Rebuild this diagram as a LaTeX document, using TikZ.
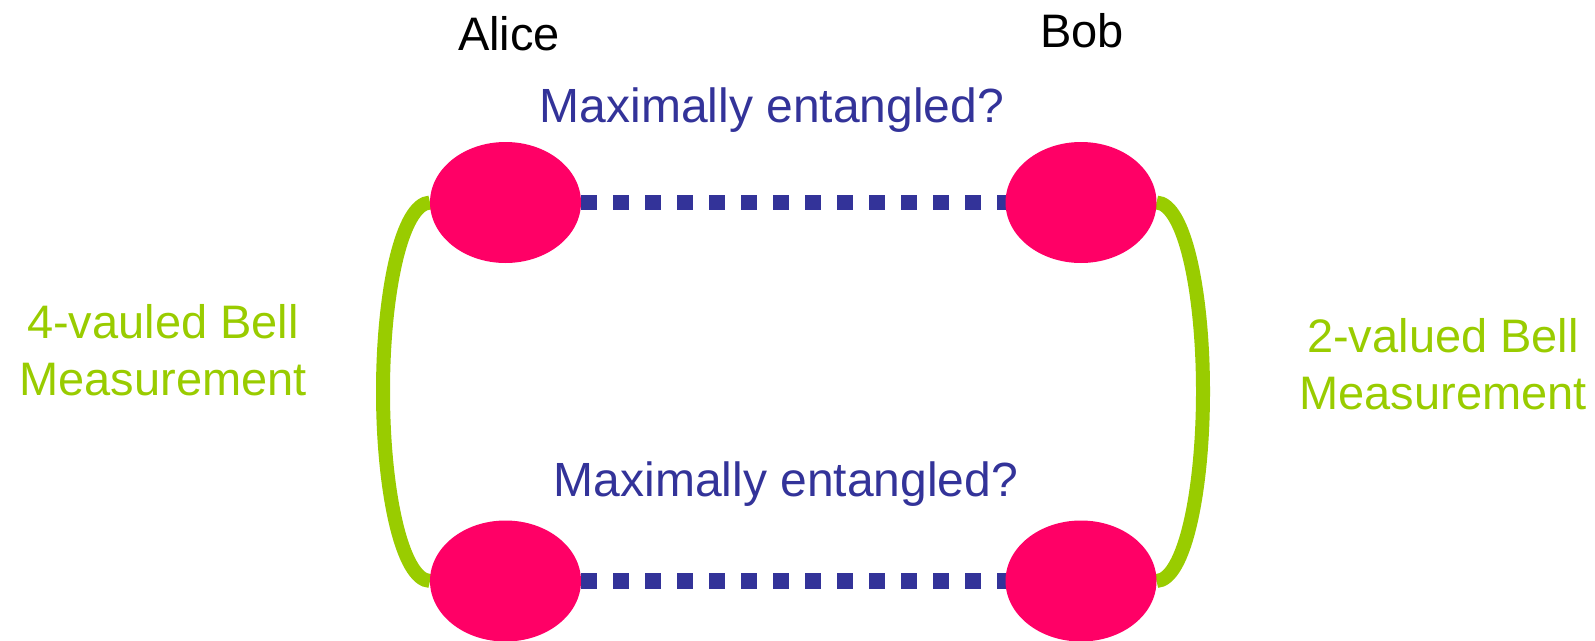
\documentclass[tikz,border=0pt]{standalone}
\usepackage{fontspec}
\setmainfont{Liberation Sans}
\usetikzlibrary{shapes.geometric,backgrounds}
\definecolor{qpink}{HTML}{FF0066}
\definecolor{qblue}{HTML}{333399}
\definecolor{qgreen}{HTML}{99CC00}
\begin{document}
\begin{tikzpicture}[x=1pt,y=-1pt,
  particle/.style={ellipse, fill=qpink, minimum width=151pt, minimum height=121pt, inner sep=0pt, outer sep=0pt},
  entangle/.style={qblue, line width=15.5pt, dash pattern=on 16pt off 16pt},
  bellarc/.style={qgreen, line width=14pt},
  party/.style={font=\fontsize{47}{56}\selectfont, text=black, inner sep=0pt, anchor=base},
  question/.style={font=\fontsize{48}{58}\selectfont, text=qblue, inner sep=0pt, anchor=base},
  bellnote/.style={font=\fontsize{47}{57}\selectfont, text=qgreen, align=center, inner sep=0pt}]
\path[use as bounding box, clip] (0,0) rectangle (1595,640);
\node[particle] (aT) at (505.5,202.5) {};
\node[particle] (bT) at (1081,202.5) {};
\node[particle] (aB) at (505.5,581) {};
\node[particle] (bB) at (1081,581) {};
\node[party] (alice) at (509,50) {Alice};
\node[party] (bob) at (1082,47) {Bob};
\node[question] (qT) at (772,122) {Maximally entangled?};
\node[question] (qB) at (786,496) {Maximally entangled?};
\node[bellnote] (bL) at (163,350) {4-vauled Bell\\Measurement};
\node[bellnote] (bR) at (1443,364) {2-valued Bell\\Measurement};
\coordinate (lMid) at (383,391.5);
\coordinate (rMid) at (1203,391.5);
\begin{scope}[on background layer]
\draw[entangle] (aT.east) -- (bT.west);
\draw[entangle] (aB.east) -- (bB.west);
\draw[bellarc] (aT.west) .. controls +(-28,1) and +(0,-100) .. (lMid) .. controls +(0,100) and +(-28,-1) .. (aB.west);
\draw[bellarc] (bT.east) .. controls +(28,1) and +(0,-100) .. (rMid) .. controls +(0,100) and +(28,-1) .. (bB.east);
\end{scope}
\end{tikzpicture}
\end{document}
